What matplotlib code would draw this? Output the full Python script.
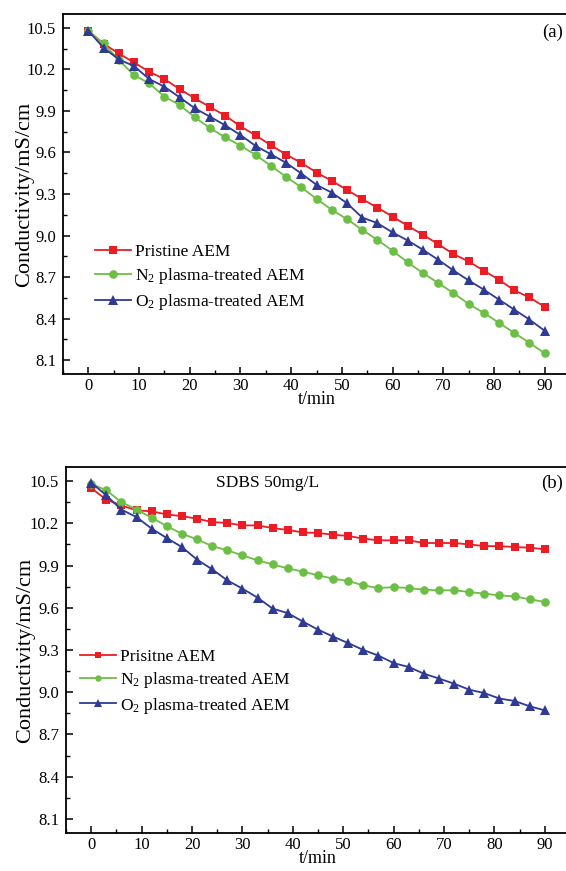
import matplotlib
matplotlib.use("Agg")
import matplotlib.pyplot as plt
import numpy as np
from matplotlib.ticker import MultipleLocator

plt.rcParams['font.family'] = ['Liberation Serif', 'DejaVu Serif']
plt.rcParams['mathtext.fontset'] = 'custom'
plt.rcParams['mathtext.rm'] = 'Liberation Serif'
plt.rcParams['mathtext.it'] = 'Liberation Serif:italic'

time_min = [0, 3, 6, 9, 12, 15, 18, 21, 24, 27, 30, 33, 36, 39, 42, 45, 48, 51,
            54, 57, 60, 63, 66, 69, 72, 75, 78, 81, 84, 87, 90]

# Panel (a)
a_pristine = [10.478, 10.385, 10.315, 10.250, 10.183, 10.130, 10.058, 9.991, 9.928,
              9.866, 9.789, 9.724, 9.652, 9.585, 9.525, 9.455, 9.395, 9.330, 9.263,
              9.202, 9.137, 9.070, 9.005, 8.938, 8.866, 8.813, 8.746, 8.681, 8.604,
              8.553, 8.485]
a_n2 = [10.478, 10.387, 10.267, 10.159, 10.099, 10.003, 9.943, 9.854, 9.775, 9.710,
        9.649, 9.582, 9.503, 9.424, 9.348, 9.265, 9.186, 9.119, 9.041, 8.969, 8.890,
        8.806, 8.729, 8.657, 8.585, 8.506, 8.441, 8.369, 8.297, 8.225, 8.150]
a_o2 = [10.478, 10.356, 10.272, 10.224, 10.130, 10.075, 9.998, 9.919, 9.858, 9.796,
        9.726, 9.647, 9.587, 9.525, 9.448, 9.366, 9.310, 9.234, 9.130, 9.090, 9.022,
        8.964, 8.897, 8.825, 8.748, 8.676, 8.609, 8.537, 8.465, 8.393, 8.312]

# Panel (b)
b_pristine = [10.450, 10.368, 10.327, 10.292, 10.285, 10.263, 10.251, 10.233, 10.209,
              10.202, 10.185, 10.185, 10.166, 10.153, 10.135, 10.131, 10.119, 10.110,
              10.091, 10.079, 10.079, 10.079, 10.060, 10.060, 10.060, 10.050, 10.038,
              10.038, 10.031, 10.027, 10.015]
b_n2 = [10.481, 10.434, 10.351, 10.297, 10.240, 10.180, 10.126, 10.086, 10.038, 10.008,
        9.972, 9.937, 9.908, 9.880, 9.857, 9.830, 9.807, 9.790, 9.759, 9.740, 9.747,
        9.740, 9.729, 9.724, 9.724, 9.712, 9.700, 9.688, 9.681, 9.660, 9.641]
b_o2 = [10.489, 10.398, 10.297, 10.244, 10.162, 10.095, 10.031, 9.942, 9.873, 9.795,
        9.736, 9.672, 9.594, 9.562, 9.502, 9.445, 9.395, 9.349, 9.300, 9.260, 9.207,
        9.179, 9.132, 9.097, 9.061, 9.018, 8.994, 8.955, 8.938, 8.900, 8.871]

labels_a = ['Pristine AEM', 'N$_2$ plasma-treated AEM', 'O$_2$ plasma-treated AEM']
labels_b = ['Prisitne AEM', 'N$_2$ plasma-treated AEM', 'O$_2$ plasma-treated AEM']

colors = ['#EC1C24', '#6CBE45', '#2E3A93']
markers = ['s', 'o', '^']
msizes = [5.5, 6.2, 7.0]

W, H = 566, 871
fig = plt.figure(figsize=(W / 100, H / 100), dpi=100)


def rect(l, t, r, b):
    return [l / W, 1 - b / H, (r - l) / W, (b - t) / H]


ax_a = fig.add_axes(rect(63, 14, 566.5, 374))
ax_b = fig.add_axes(rect(66, 467, 566.5, 833))


def style(ax):
    ax.set_xlim(-5, 94.3)
    ax.set_ylim(8.0, 10.6)
    ax.xaxis.set_major_locator(MultipleLocator(10))
    ax.xaxis.set_minor_locator(MultipleLocator(5))
    ax.yaxis.set_minor_locator(MultipleLocator(0.15))
    ticks = np.arange(8.1, 10.51, 0.3)
    ax.set_yticks(ticks)
    ax.set_yticklabels([f'{v:.1f}' for v in ticks])
    ax.tick_params(which='major', direction='in', length=5, width=1.1, labelsize=12,
                   right=False, top=False)
    ax.tick_params(which='minor', direction='in', length=3, width=1.0,
                   right=False, top=False)
    ax.tick_params(axis='x', which='major', pad=3)
    ax.tick_params(axis='y', which='major', pad=5)
    ax.spines['right'].set_visible(False)
    for s in ['left', 'top', 'bottom']:
        ax.spines[s].set_linewidth(1.3)
    ax.set_xlabel('t/min', fontsize=13, labelpad=0)
    ax.set_ylabel('Conductivity/mS/cm', fontsize=16)


series_a = [a_pristine, a_n2, a_o2]
series_b = [b_pristine, b_n2, b_o2]

for ax, series, labs in [(ax_a, series_a, labels_a), (ax_b, series_b, labels_b)]:
    for ys, c, m, ms, lab in zip(series, colors, markers, msizes, labs):
        ax.plot(time_min, ys, color=c, marker=m, markersize=ms, linewidth=1.3,
                label=lab, markeredgewidth=0)
    style(ax)

ax_a.yaxis.set_label_coords(-0.058, 0.5)
ax_b.yaxis.set_label_coords(-0.062, 0.5)
ax_a.xaxis.set_label_coords(50 / 99.3, -17 / 360)
ax_b.xaxis.set_label_coords(50 / 99.3, -17 / 366)

leg_a = ax_a.legend(loc='upper left', bbox_to_anchor=(95 / W, 1 - 244 / H),
                    bbox_transform=fig.transFigure, frameon=False, fontsize=12.5,
                    handlelength=2.1, handletextpad=0.2, labelspacing=0.35,
                    borderpad=0, borderaxespad=0)
leg_b = ax_b.legend(loc='upper left', bbox_to_anchor=(80 / W, 1 - 649 / H),
                    bbox_transform=fig.transFigure, frameon=False, fontsize=12.5,
                    handlelength=2.1, handletextpad=0.2, labelspacing=0.3,
                    borderpad=0, borderaxespad=0, markerscale=0.75)

fig.text(563 / W, 1 - 32 / H, '(a)', ha='right', va='center', fontsize=13.5)
fig.text(563 / W, 1 - 483 / H, '(b)', ha='right', va='center', fontsize=13.5)
fig.text(268 / W, 1 - 483 / H, 'SDBS 50mg/L', ha='center', va='center', fontsize=12.5)

fig.savefig('out.png', dpi=100)
